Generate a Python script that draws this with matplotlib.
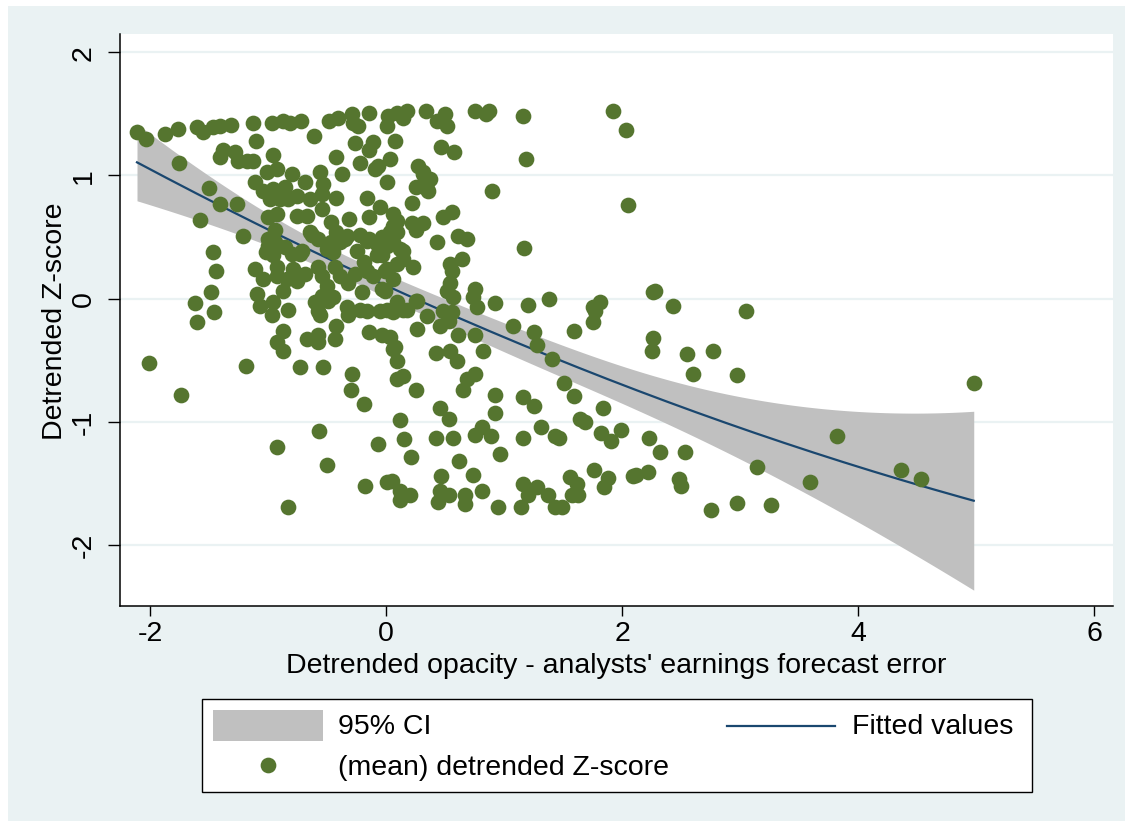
import numpy as np
import matplotlib
matplotlib.use("Agg")
import matplotlib.pyplot as plt
from matplotlib.patches import Rectangle
from matplotlib.lines import Line2D

# --- CONFIG ---
W, H = 1133, 829
FS = 20.5
plt.rcParams['font.family'] = ['Liberation Sans', 'DejaVu Sans']
plt.rcParams['axes.unicode_minus'] = False

BG = "#EAF2F3"
GREEN = "#55752F"
NAVY = "#1A476F"
CI_GREY = "#C0C0C0"

# --- DATA: (opacity, z-score) ---
opacity = [
    -2.11, -2.03, -1.87, -1.76, -1.60, -1.55, -1.47, -1.41, -1.31, -1.13, -0.97, -0.87,
    -0.81, -0.72, -0.61, -0.48, -0.41, -0.29, -0.28, -0.24, -0.14, 0.02, 0.01, 0.09,
    0.14, 0.18, 0.34, 0.43, 0.50, 0.52, 0.75, 0.85, 0.87, 1.16, 1.92, 2.03,
    -1.10, -1.38, -1.28, -1.41, -1.25, -1.18, -1.13, -0.96, -1.75, -0.26, -0.11, -0.14,
    0.08, -0.42, -0.22, -0.09, -0.07, 0.03, 0.47, 0.58, 0.27, 0.31, 0.37, 0.25,
    0.36, 1.19, 0.90, 2.05, -0.37, 0.01, -0.56, -0.16, -0.42, -0.05, 0.22, 0.35,
    0.33, -1.50, -1.41, -1.26, -1.58, -1.21, -1.47, -1.44, -1.48, -1.62, -1.11, -1.04,
    -1.09,
    # dense cluster
    -1.11, -1.01, -0.92, -0.80, -0.69, -0.53, -0.54, -1.04, -0.96, -0.86, -0.98, -0.90,
    -0.83, -0.75, -0.64, -0.54, -1.00, -0.92, -0.75, -0.67, -0.47, -0.31, -0.14, 0.06,
    0.09, 0.22, 0.31, -0.94, -0.64, -0.58, -0.42, -0.39, -0.35, -0.22, -0.14, -0.03,
    0.03, -1.00, -0.86, -0.71, -0.50, -0.45, -0.25, 0.01, 0.12, -1.00, -0.94, -1.02,
    -0.96, -0.80, -0.73, -0.63, -0.47, -0.33, -0.16, -0.08, 0.09, 0.06, 0.25, 0.14,
    0.14, 0.23, -0.92, -0.92, -0.84, -0.87, -0.79, -0.75, -0.69, -0.58, -0.54, -0.50,
    -0.54, -0.43, -0.39, -0.32, -0.26, -0.19, -0.16, -0.08, -0.11, 0.01, 0.06, -0.03,
    -1.07, -0.96, -0.97, -0.83, -0.60, -0.58, -0.49, -0.45, -0.33, -0.32, -0.22, -0.16,
    -0.20, -0.05, 0.06, 0.09, 0.14, 0.26, 0.26, -0.87, -0.92, -0.87, -0.67, -0.58,
    -0.58, -0.42, -0.43, -0.14, -0.03, 0.03, 0.08, 0.09, -1.19, -0.73, -0.53, -0.29,
    0.14,
    # lower left
    -1.46, -1.60, -0.56, 0.06, 0.09, -2.01, -0.30, -0.19, -1.74, -0.57, -0.92, -0.07,
    0.12, -0.50, -0.18, 0.01, 0.05, 0.12, -0.83, 0.12,
    # centre
    0.31, 0.48, 0.56, 0.06, 0.01, 0.43, 0.61, 0.69, 1.17, -0.03, 0.64, 0.54,
    0.09, -0.01, 0.56, 0.54, 0.52, 0.75, 0.74, 0.57, 0.92, 1.20, 1.38, 1.81,
    1.75, 2.26, 0.25, -0.01, 0.01, 0.18, 0.35, 0.48, 0.56, 0.46, 0.53, 0.77,
    1.77, 1.75, 0.61, 0.75, 1.08, 1.25, 1.28, 1.41, 1.59, 2.26, 2.25, 0.42,
    0.54, 0.60, 0.82, 0.75, 0.69, 0.65, 0.25, 1.51, 1.59, 1.84, 0.92, 0.92,
    1.16, 1.25, 0.46, 0.53, 0.15, 0.42, 0.57, 0.81, 0.75, 0.89, 1.16, 1.31,
    1.43, 1.64, 1.69, 1.82, 1.91, 1.99, 2.23, 2.32, 0.21, 0.62, 0.97, 0.47,
    0.74, 0.81, 0.20, 0.46, 0.53, 0.44, 0.67, 0.67, 0.95, 1.14, 1.16, 1.28,
    1.20, 1.37, 1.43, 1.49, 1.56, 1.62, 1.58, 1.63, 1.76, 1.88, 1.85, 2.09,
    2.22,
    # right side
    2.28, 2.43, 3.05, 2.55, 2.77, 2.60, 2.97, 4.98, 1.47, 2.53, 3.82, 2.12,
    2.48, 2.50, 2.75, 2.97, 3.26, 3.14, 3.59, 4.36, 4.53,
]

zscore = [
    1.35, 1.30, 1.34, 1.38, 1.39, 1.35, 1.39, 1.40, 1.41, 1.43, 1.43, 1.44,
    1.43, 1.44, 1.32, 1.44, 1.47, 1.50, 1.43, 1.40, 1.51, 1.48, 1.40, 1.51,
    1.47, 1.52, 1.52, 1.44, 1.50, 1.40, 1.52, 1.50, 1.52, 1.48, 1.52, 1.37,
    1.28, 1.21, 1.19, 1.15, 1.12, 1.12, 1.12, 1.17, 1.10, 1.26, 1.27, 1.21,
    1.28, 1.15, 1.10, 1.05, 1.08, 1.13, 1.23, 1.19, 1.08, 1.03, 0.97, 0.91,
    0.87, 1.13, 0.87, 0.76, 1.01, 0.95, 1.03, 0.82, 0.82, 0.74, 0.78, 0.89,
    0.95, 0.90, 0.77, 0.77, 0.64, 0.51, 0.38, 0.22, 0.05, -0.04, 0.24, 0.16,
    0.04,
    # dense cluster
    0.95, 1.03, 1.05, 1.01, 0.95, 0.93, 0.85, 0.87, 0.89, 0.91, 0.81, 0.81,
    0.81, 0.83, 0.81, 0.73, 0.66, 0.69, 0.67, 0.67, 0.62, 0.65, 0.66, 0.69,
    0.63, 0.61, 0.61, 0.56, 0.54, 0.48, 0.54, 0.46, 0.48, 0.52, 0.48, 0.50,
    0.54, 0.43, 0.42, 0.39, 0.40, 0.38, 0.39, 0.43, 0.40, 0.48, 0.46, 0.38,
    0.35, 0.36, 0.36, 0.52, 0.46, 0.51, 0.47, 0.44, 0.54, 0.46, 0.56, 0.39,
    0.32, 0.26, 0.26, 0.18, 0.16, 0.06, 0.24, 0.14, 0.20, 0.26, 0.18, 0.10,
    0.02, 0.26, 0.18, 0.13, 0.20, 0.30, 0.22, 0.35, 0.18, 0.24, 0.16, 0.08,
    -0.06, -0.03, -0.13, -0.09, -0.03, -0.10, -0.02, 0.01, -0.07, -0.13, -0.09, -0.10,
    0.05, -0.10, -0.11, -0.03, -0.09, -0.02, -0.25, -0.26, -0.35, -0.43, -0.33, -0.30,
    -0.35, -0.22, -0.33, -0.27, -0.30, -0.31, -0.39, -0.51, -0.55, -0.56, -0.56, -0.61,
    -0.63,
    # lower left
    -0.11, -0.19, -0.13, -0.41, -0.65, -0.52, -0.74, -0.86, -0.78, -1.08, -1.21, -1.18,
    -0.99, -1.35, -1.52, -1.49, -1.48, -1.56, -1.69, -1.64,
    # centre
    1.01, 0.66, 0.70, 0.59, 0.51, 0.46, 0.51, 0.48, 0.41, 0.35, 0.32, 0.28,
    0.28, 0.22, 0.22, 0.13, 0.06, 0.08, 0.01, 0.01, -0.04, -0.05, 0.00, -0.03,
    -0.07, 0.05, -0.02, 0.06, -0.09, -0.09, -0.14, -0.10, -0.11, -0.22, -0.18, -0.07,
    -0.10, -0.19, -0.30, -0.30, -0.22, -0.27, -0.38, -0.49, -0.26, -0.32, -0.43, -0.44,
    -0.43, -0.51, -0.43, -0.61, -0.65, -0.74, -0.74, -0.69, -0.79, -0.89, -0.78, -0.93,
    -0.80, -0.87, -0.89, -0.98, -1.14, -1.13, -1.13, -1.04, -1.11, -1.12, -1.13, -1.04,
    -1.12, -0.98, -1.00, -1.09, -1.16, -1.07, -1.13, -1.25, -1.29, -1.32, -1.26, -1.44,
    -1.43, -1.56, -1.60, -1.56, -1.60, -1.65, -1.60, -1.67, -1.69, -1.69, -1.51, -1.53,
    -1.60, -1.60, -1.69, -1.69, -1.45, -1.51, -1.60, -1.60, -1.39, -1.46, -1.53, -1.44,
    -1.41,
    # right side
    0.06, -0.06, -0.10, -0.45, -0.43, -0.61, -0.62, -0.69, -1.13, -1.25, -1.12, -1.43,
    -1.47, -1.52, -1.72, -1.66, -1.68, -1.37, -1.49, -1.39, -1.47,
]

x_ticks = [-2, 0, 2, 4, 6]
y_ticks = [-2, -1, 0, 1, 2]

x = np.array(opacity)
y = np.array(zscore)

# --- QUADRATIC FIT + 95% CI (like qfitci) ---
X = np.column_stack([np.ones_like(x), x, x ** 2])
beta, _, _, _ = np.linalg.lstsq(X, y, rcond=None)
resid = y - X @ beta
n, k = X.shape
s2 = resid @ resid / (n - k)
cov = s2 * np.linalg.inv(X.T @ X)
xs = np.linspace(x.min(), x.max(), 200)
Xs = np.column_stack([np.ones_like(xs), xs, xs ** 2])
fit = Xs @ beta
se = np.sqrt(np.einsum("ij,jk,ik->i", Xs, cov, Xs))
tval = 1.967
lo, hi = fit - tval * se, fit + tval * se

# --- FIGURE ---
fig = plt.figure(figsize=(W / 100, H / 100), dpi=100, facecolor="white")
bg = Rectangle((8 / W, 7 / H), (W - 16) / W, (H - 14) / H,
               transform=fig.transFigure, facecolor=BG, edgecolor="none")
bg.set_zorder(-10)
fig.add_artist(bg)

ax = fig.add_axes([120 / W, 1 - 607 / H, 993 / W, 572 / H])
ax.set_facecolor("white")
ax.fill_between(xs, lo, hi, color=CI_GREY, linewidth=0, zorder=2)
ax.plot(xs, fit, color=NAVY, linewidth=1.6, zorder=3)
ax.scatter(x, y, s=128, color=GREEN, linewidths=0, zorder=4)

ax.set_xlim(-2.254, 6.16)
ax.set_ylim(-2.498, 2.149)
ax.set_xticks(x_ticks)
ax.set_yticks(y_ticks)
ax.set_xticklabels([str(t) for t in x_ticks])
ax.set_yticklabels([str(t) for t in y_ticks], rotation=90, va="center")
ax.tick_params(axis="x", direction="out", length=7.2, width=1.0,
               labelsize=FS, color="black", pad=3)
ax.tick_params(axis="y", direction="out", length=8.6, width=1.0,
               labelsize=FS, color="black", pad=8)
ax.grid(axis="y", color=BG, linewidth=1.6, zorder=1)
ax.set_axisbelow(True)
for side in ["top", "right"]:
    ax.spines[side].set_visible(False)
for side in ["left", "bottom"]:
    ax.spines[side].set_linewidth(1.1)
    ax.spines[side].set_color("black")

ax.set_xlabel("Detrended opacity - analysts' earnings forecast error", fontsize=FS, va="center")
ax.set_ylabel("Detrended Z-score", fontsize=FS, va="center")
ax.xaxis.set_label_coords(0.5, (607 - 666) / 572)
ax.yaxis.set_label_coords((55 - 120) / 993, 0.5)

# --- LEGEND (drawn by hand, pixel units inside the box) ---
lax = fig.add_axes([202 / W, 1 - 793 / H, 830 / W, 93 / H])
lax.set_xlim(0, 830)
lax.set_ylim(93, 0)
lax.axis("off")
lax.add_patch(Rectangle((0, 0), 830, 93, facecolor="white", edgecolor="black",
                        linewidth=1.0, clip_on=False))
lax.add_patch(Rectangle((11, 11), 110, 31, facecolor=CI_GREY, edgecolor="none"))
lax.text(136, 27, "95% CI", fontsize=FS, va="center", ha="left")
lax.add_line(Line2D([525, 633], [27, 27], color=NAVY, linewidth=1.6))
lax.text(650, 27, "Fitted values", fontsize=FS, va="center", ha="left")
lax.scatter([66], [66], s=128, color=GREEN, linewidths=0)
lax.text(136, 68, "(mean) detrended Z-score", fontsize=FS, va="center", ha="left")

fig.savefig("out.png", dpi=100, facecolor=fig.get_facecolor())
